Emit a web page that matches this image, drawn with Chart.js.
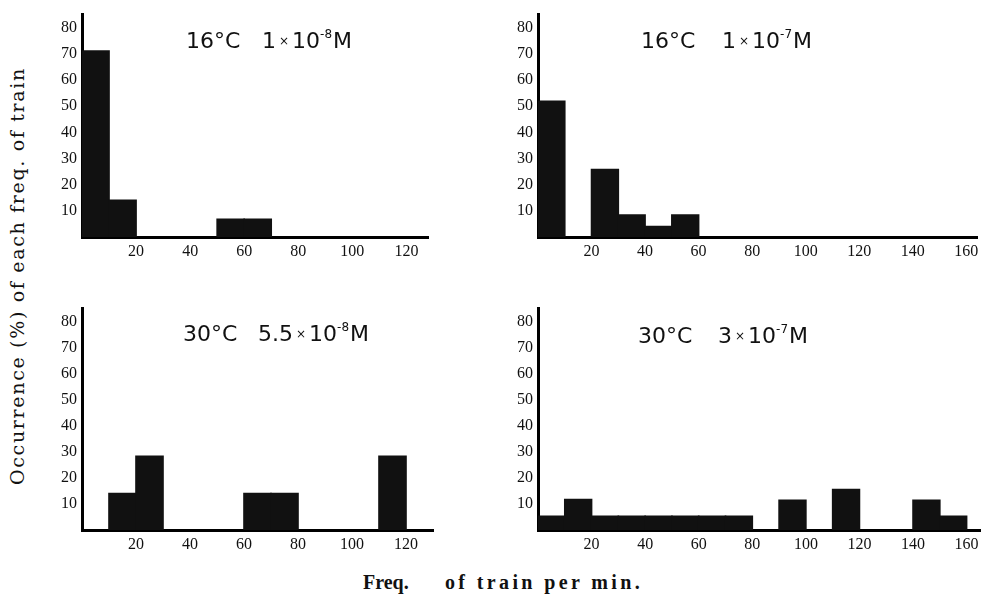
<!DOCTYPE html>
<html>
<head>
<meta charset="utf-8">
<script src="https://cdn.jsdelivr.net/npm/chart.js@4.4.1/dist/chart.umd.min.js"></script>
<style>
  html, body { margin:0; padding:0; background:#fff; }
  body { width:985px; height:599px; position:relative; overflow:hidden; }
  .pane { position:absolute; }
  .t { position:absolute; font-family:"DejaVu Sans", sans-serif; font-size:22px; line-height:22px; color:#111; white-space:nowrap; }
  .t .x { font-size:12px; vertical-align:3px; margin:0 3px; }
  .t sup { font-size:12px; vertical-align:10px; line-height:0; margin-right:1px; }
  .ytitle { position:absolute; font-family:"DejaVu Serif", serif; font-size:19px; line-height:20px; color:#111; white-space:nowrap; transform-origin:0 0; }
  .xtitle { position:absolute; font-family:"Liberation Serif", serif; font-weight:bold; font-size:20px; line-height:20px; color:#111; white-space:nowrap; }
</style>
</head>
<body>
<div class="pane" style="left:30px;top:0px;"><canvas id="c1" width="410" height="265"></canvas></div>
<div class="pane" style="left:486px;top:0px;"><canvas id="c2" width="499" height="265"></canvas></div>
<div class="pane" style="left:30px;top:294px;"><canvas id="c3" width="410" height="264"></canvas></div>
<div class="pane" style="left:486px;top:294px;"><canvas id="c4" width="499" height="264"></canvas></div>

<div class="t" style="left:186px;top:30px;">16°C</div>
<div class="t" style="left:262px;top:30px;">1<span class="x">×</span>10<sup>-8</sup>M</div>
<div class="t" style="left:641px;top:30px;">16°C</div>
<div class="t" style="left:722px;top:30px;">1<span class="x">×</span>10<sup>-7</sup>M</div>
<div class="t" style="left:183px;top:323px;">30°C</div>
<div class="t" style="left:258px;top:323px;">5.5<span class="x">×</span>10<sup>-8</sup>M</div>
<div class="t" style="left:638px;top:325px;">30°C</div>
<div class="t" style="left:718px;top:325px;">3<span class="x">×</span>10<sup>-7</sup>M</div>

<div id="ytitle" class="ytitle">Occurrence (%) of each freq. of train</div>
<div id="xt1" class="xtitle" style="left:363px;top:572px;">Freq.</div>
<div id="xt2" class="xtitle" style="left:445px;top:572px;">of train per min.</div>

<script>
// ---- data ----
const binStartsShort = [0,10,20,30,40,50,60,70,80,90,100,110,120];
const binStartsLong  = [0,10,20,30,40,50,60,70,80,90,100,110,120,130,140,150];
const binWidth = 10;
const vals16C_1e8  = [71.4,14.3,0,0,0,7.1,7.1,0,0,0,0,0,0];
const vals16C_1e7  = [52.2,0,26.1,8.7,4.3,8.7,0,0,0,0,0,0,0,0,0,0];
const vals30C_55e8 = [0,14.3,28.6,0,0,0,14.3,14.3,0,0,0,28.6,0];
const vals30C_3e7  = [5.6,12,5.6,5.6,5.6,5.6,5.6,5.6,0,11.7,0,15.8,0,0,11.7,5.6];
const yTicks = [10,20,30,40,50,60,70,80];
const xTicks = [20,40,60,80,100,120,140,160];

const tickFont = { family: '"Liberation Serif", serif', size: 16 };

function makeChart(id, starts, vals, xMax, padRight) {
  const data = starts.map((s, i) => ({ x: s + binWidth / 2, y: vals[i] }));
  new Chart(document.getElementById(id), {
    type: 'bar',
    data: { datasets: [{ data, backgroundColor: '#111', borderWidth: 0, barPercentage: 1.06, categoryPercentage: 1, inflateAmount: 0 }] },
    options: {
      responsive: false, animation: false,
      layout: { padding: { top: 10, right: padRight, left: 0, bottom: 0 } },
      plugins: { legend: { display: false }, tooltip: { enabled: false } },
      scales: {
        x: {
          type: 'linear', min: 0, max: xMax, z: 1, offset: false,
          grid: { display: false, drawTicks: false },
          border: { display: true, color: '#000', width: 3 },
          afterBuildTicks: s => { s.ticks = xTicks.filter(v => v <= xMax).map(v => ({ value: v })); },
          afterFit: s => { s.height = 28; },
          ticks: { color: '#111', font: tickFont, padding: 5, maxRotation: 0, autoSkip: false }
        },
        y: {
          min: 0, max: 85, z: 1,
          grid: { display: false, drawTicks: false },
          border: { display: true, color: '#000', width: 3 },
          afterBuildTicks: s => { s.ticks = yTicks.map(v => ({ value: v })); },
          afterFit: s => { s.width = 52; },
          ticks: { color: '#111', font: tickFont, padding: 5, autoSkip: false }
        }
      }
    }
  });
}

makeChart('c1', binStartsShort, vals16C_1e8, 128, 12);
makeChart('c2', binStartsLong, vals16C_1e7, 164, 8);
makeChart('c3', binStartsShort, vals30C_55e8, 130, 7);
makeChart('c4', binStartsLong, vals30C_3e7, 165, 5);

// fit titles to measured extents in the reference
function fitSpacing(el, target) {
  const n = el.textContent.length;
  const w = el.getBoundingClientRect().width;
  el.style.letterSpacing = ((target - w) / n) + 'px';
}
const yt = document.getElementById('ytitle');
fitSpacing(yt, 418);
const yw = yt.offsetWidth;
yt.style.left = (17 - 10) + 'px';
yt.style.top = (276 + yw / 2) + 'px';
yt.style.transform = 'rotate(-90deg)';
fitSpacing(document.getElementById('xt2'), 198);
</script>
</body>
</html>
